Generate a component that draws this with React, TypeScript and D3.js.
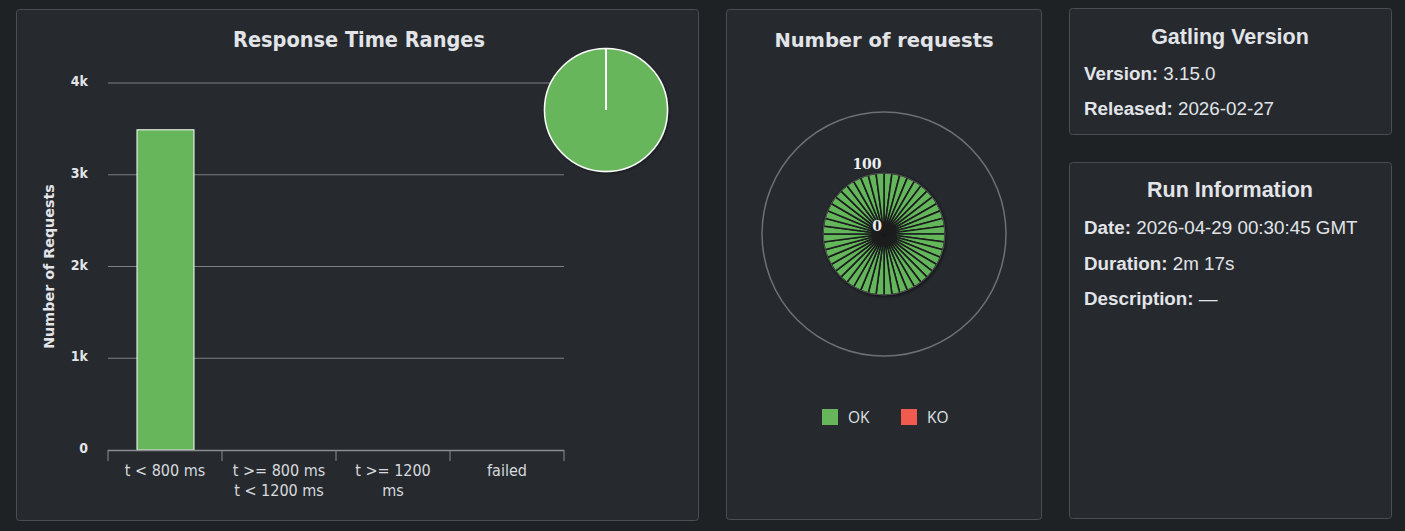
import React from "react";
import * as d3 from "d3";

const rangeCategories = ["t < 800 ms", "t >= 800 ms t < 1200 ms", "t >= 1200 ms", "failed"];
const rangeLabelLines = [["t < 800 ms"], ["t >= 800 ms", "t < 1200 ms"], ["t >= 1200", "ms"], ["failed"]];
const rangeValues = [3490, 0, 0, 0];
const yTicks = [0, 1000, 2000, 3000, 4000];

const requestCount = 48;
const requestValues = Array.from({ length: requestCount }, () => 100);
const polarTicks = [0, 100];

const versionInfo = [["Version:", "3.15.0"], ["Released:", "2026-02-27"]];
const runInfo = [["Date:", "2026-04-29 00:30:45 GMT"], ["Duration:", "2m 17s"], ["Description:", "—"]];

const PAGE_BG = "#1f2225";
const PANEL_BG = "#262a2f";
const PANEL_BORDER = "#4a4e54";
const GREEN = "#68b65c";
const RED = "#f15b4f";
const TEXT = "#e2e4e8";
const CHART_FONT = "'DejaVu Sans Condensed', 'DejaVu Sans', sans-serif";
const INFO_FONT = "'Liberation Sans', Arial, sans-serif";

export default function App() {
  const x = d3.scaleBand<string>().domain(rangeCategories).range([108, 564]);
  const y = d3.scaleLinear().domain([0, 4000]).range([450, 83]);
  const fmt = (v: number) => (v === 0 ? "0" : `${v / 1000}k`);

  const pie = d3.pie<number>().sort(null).value((d) => d)(rangeValues);
  const pieArc = d3.arc<d3.PieArcDatum<number>>().innerRadius(0).outerRadius(61.5);

  const angle = d3.scaleBand<number>().domain(d3.range(requestCount)).range([0, 2 * Math.PI]);
  const r = d3.scaleLinear().domain([0, 200]).range([0, 122]);
  const polarArc = d3.arc<number>();

  return (
    <svg width={1405} height={531} style={{ position: "absolute", left: 0, top: 0, background: PAGE_BG }}>
      <defs>
        <filter id="shadow" x="-20%" y="-20%" width="140%" height="140%">
          <feDropShadow dx="1" dy="1" stdDeviation="1.5" floodColor="#000" floodOpacity="0.5" />
        </filter>
      </defs>
      <rect x={0} y={0} width={1405} height={531} fill={PAGE_BG} />
      {/* Panel 1 */}
      <rect x={16.5} y={9.5} width={682} height={511} rx={3} fill={PANEL_BG} stroke={PANEL_BORDER} />
      <text x={359} y={47} textAnchor="middle" fill={TEXT} fontFamily={CHART_FONT} fontSize={21.5} fontWeight="bold">
        Response Time Ranges
      </text>
      {yTicks.map((t) => (
        <g key={t}>
          {t > 0 && <line x1={108} x2={564} y1={y(t)} y2={y(t)} stroke="#7d7f82" strokeWidth={1} />}
          <text x={88} y={y(t) + 3} textAnchor="end" fill={TEXT} fontFamily={CHART_FONT} fontSize={14} fontWeight="bold">
            {fmt(t)}
          </text>
        </g>
      ))}
      <text
        transform={`translate(54,${y(2000)}) rotate(-90)`}
        textAnchor="middle"
        fill={TEXT}
        fontFamily="'DejaVu Sans', sans-serif"
        fontSize={14.3}
        fontWeight="bold"
      >
        Number of Requests
      </text>
      {rangeCategories.map((c, i) => (
        <rect
          key={c}
          x={(x(c) as number) + x.bandwidth() * 0.25 + 0.5}
          y={y(rangeValues[i])}
          width={x.bandwidth() * 0.5}
          height={450 - y(rangeValues[i])}
          fill={GREEN}
          stroke="#fff"
          strokeWidth={1}
          opacity={rangeValues[i] > 0 ? 1 : 0}
        />
      ))}
      <line x1={108} x2={564} y1={450.5} y2={450.5} stroke="#8a8c8f" strokeWidth={1.5} />
      {[...rangeCategories.map((c) => x(c) as number), 564].map((v, i) => (
        <line key={i} x1={v} x2={v} y1={450} y2={461} stroke="#8a8c8f" strokeWidth={1} />
      ))}
      {rangeCategories.map((c, i) => (
        <text key={c} textAnchor="middle" fill="#d8dade" fontFamily={CHART_FONT} fontSize={16}>
          {rangeLabelLines[i].map((ln, j) => (
            <tspan key={j} x={(x(c) as number) + x.bandwidth() / 2} y={476 + j * 20}>
              {ln}
            </tspan>
          ))}
        </text>
      ))}
      <g transform="translate(606,110)" filter="url(#shadow)">
        {pie.map((p, i) => (
          <path key={i} d={pieArc(p) as string} fill={GREEN} stroke="#fff" strokeWidth={1.5} />
        ))}
      </g>

      {/* Panel 2 */}
      <rect x={726.5} y={9.5} width={315} height={510} rx={3} fill={PANEL_BG} stroke={PANEL_BORDER} />
      <text x={884} y={47} textAnchor="middle" fill={TEXT} fontFamily="'DejaVu Sans', sans-serif" fontSize={19.5} fontWeight="bold">
        Number of requests
      </text>
      <circle cx={884} cy={234} r={r(200)} fill="none" stroke="#6e7074" strokeWidth={1.5} />
      <g transform="translate(884,234)" filter="url(#shadow)">
        {requestValues.map((v, i) => (
          <path
            key={i}
            d={
              polarArc({
                innerRadius: 0,
                outerRadius: r(v),
                startAngle: angle(i) as number,
                endAngle: (angle(i) as number) + angle.bandwidth(),
              } as any) as string
            }
            fill="#63b75a"
            stroke="#1b1d1f"
            strokeWidth={1.6}
          />
        ))}
      </g>
      <circle cx={884} cy={234} r={r(100)} fill="none" stroke="#555" strokeWidth={1} />
      {polarTicks.map((t) => (
        <text
          key={t}
          x={867 + (t === 0 ? 10 : 0)}
          y={234 - r(t) - (t === 0 ? 3 : 4)}
          textAnchor="middle"
          fill="#eceef0"
          fontFamily="'DejaVu Serif', serif"
          fontSize={14}
          fontWeight="bold"
        >
          {t}
        </text>
      ))}
      <rect x={822} y={409} width={16} height={16} fill={GREEN} />
      <text x={848} y={423} fill="#dfe1e4" fontFamily="'Open Sans', sans-serif" fontSize={15.5}>
        OK
      </text>
      <rect x={901} y={409} width={16} height={16} fill={RED} />
      <text x={927} y={423} fill="#dfe1e4" fontFamily="'Open Sans', sans-serif" fontSize={15.5}>
        KO
      </text>

      {/* Panel 3 */}
      <rect x={1069.5} y={8.5} width={322} height={126} rx={3} fill={PANEL_BG} stroke={PANEL_BORDER} />
      <text x={1230} y={44} textAnchor="middle" fill={TEXT} fontFamily={INFO_FONT} fontSize={21.5} fontWeight="bold">
        Gatling Version
      </text>
      {versionInfo.map(([k, v], i) => (
        <text key={k} x={1084} y={80 + i * 35} fill={TEXT} fontFamily={INFO_FONT} fontSize={18.8}>
          <tspan fontWeight="bold">{k}</tspan>
          <tspan> {v}</tspan>
        </text>
      ))}

      {/* Panel 4 */}
      <rect x={1069.5} y={162.5} width={322} height={356} rx={3} fill={PANEL_BG} stroke={PANEL_BORDER} />
      <text x={1230} y={197} textAnchor="middle" fill={TEXT} fontFamily={INFO_FONT} fontSize={21.5} fontWeight="bold">
        Run Information
      </text>
      {runInfo.map(([k, v], i) => (
        <text key={k} x={1084} y={234 + i * 35.5} fill={TEXT} fontFamily={INFO_FONT} fontSize={18.8}>
          <tspan fontWeight="bold">{k}</tspan>
          <tspan> {v}</tspan>
        </text>
      ))}
    </svg>
  );
}
